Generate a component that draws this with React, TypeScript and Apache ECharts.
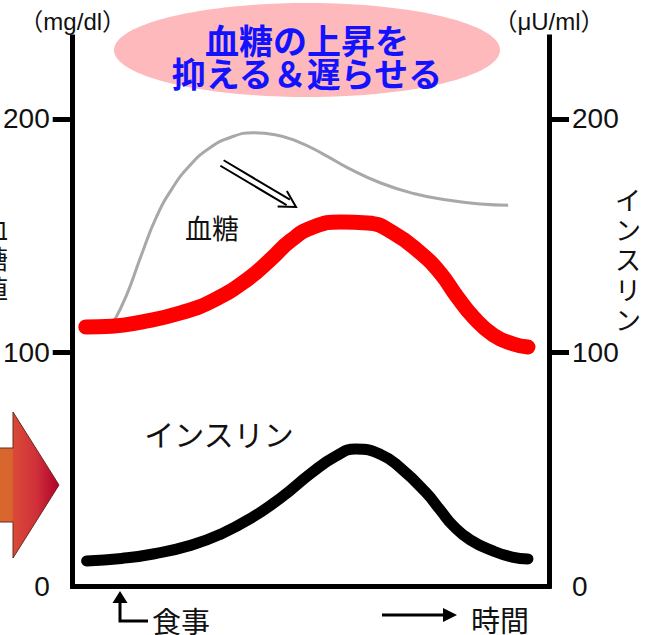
import React, { useEffect, useRef } from "react";
import * as echarts from "echarts";

// Time axis runs 0..120 (arbitrary units after the meal)
// Blood glucose before slowing absorption (grey, thin)
const timeGlucoseBefore = [10.3, 13.6, 17.3, 21.1, 25, 29.5, 34.5, 40, 45.5, 51, 57, 63, 69.3, 77.6, 85.9, 94.4, 102.7, 109.7];
const glucoseBefore = [113, 124.6, 141.7, 158, 170, 180, 187.5, 192.2, 194, 193.2, 190, 185, 179, 172.5, 168, 165.2, 163.5, 163];

// Blood glucose with the rise suppressed and delayed (red, thick)
const timeGlucose = [3.3, 9.8, 17.3, 27.4, 35.7, 44.2, 50, 55, 60.8, 67.5, 74.3, 80.8, 87.6, 92.6, 96.9, 100.9, 106, 111, 114.7];
const glucose = [110.9, 111.2, 113, 117, 122.5, 131.5, 140, 148, 153.8, 155.8, 155.4, 151.1, 142.6, 134, 123.7, 115.2, 107.4, 103.6, 102.3];

// Insulin (black, thick) on the right axis
const timeInsulin = [3.5, 12.3, 20.6, 29.9, 37.4, 44.9, 52.5, 60, 66.3, 71.3, 77.6, 82.6, 88.9, 92.6, 95.9, 100.2, 105.9, 110.7, 114.7];
const insulin = [10.7, 11.8, 13.8, 17.5, 22.3, 29, 37.8, 48.2, 55.6, 58.6, 56.3, 50.5, 40.2, 32.5, 25.7, 19.7, 15, 12.4, 11.6];

// Axis tick labels
const tickLabels = [0, 100, 200];
const tickMarks = [100, 200];

const pairs = (xs: number[], ys: number[]) => xs.map((x, i) => [x, ys[i]]);

const JP = '"Noto Sans CJK JP", "Noto Sans", sans-serif';
const NUM = '"Liberation Sans Narrow", "Arial Narrow", "Liberation Sans", sans-serif';

// Small "⇒" arrow between the two glucose curves
function doubleArrow(x0: number, y0: number, x1: number, y1: number) {
  const dx = x1 - x0, dy = y1 - y0;
  const len = Math.hypot(dx, dy);
  const ux = dx / len, uy = dy / len;
  const nx = -uy, ny = ux;
  const off = 3.2;
  const back = 9;
  const ex = x1 - ux * back, ey = y1 - uy * back;
  const style = { stroke: "#000", lineWidth: 2, fill: "none" };
  return [
    { type: "line", shape: { x1: x0 + nx * off, y1: y0 + ny * off, x2: ex + nx * off, y2: ey + ny * off }, style },
    { type: "line", shape: { x1: x0 - nx * off, y1: y0 - ny * off, x2: ex - nx * off, y2: ey - ny * off }, style },
    {
      type: "polyline",
      shape: {
        points: [
          [x1 - ux * 16 + nx * 9, y1 - uy * 16 + ny * 9],
          [x1, y1],
          [x1 - ux * 16 - nx * 9, y1 - uy * 16 - ny * 9],
        ],
      },
      style,
    },
  ];
}

function yAxis(position: "left" | "right", name: string) {
  return {
    type: "value",
    position,
    min: 0,
    max: 235,
    name,
    nameLocation: "end",
    nameGap: 4,
    nameTextStyle: { color: "#111", fontSize: 24, fontFamily: '"Liberation Sans", "Noto Sans CJK JP", sans-serif' },
    axisLine: { show: true, lineStyle: { color: "#000", width: 5, cap: "square" } },
    axisTick: { show: true, length: 20, customValues: tickMarks, lineStyle: { color: "#000", width: 5 } },
    axisLabel: { show: true, customValues: tickLabels, margin: 23, color: "#111", fontSize: 28, fontFamily: NUM },
    splitLine: { show: false },
  };
}

export default function App() {
  const ref = useRef<HTMLDivElement>(null);

  useEffect(() => {
    if (!ref.current) return;
    const chart = echarts.init(ref.current, null, { renderer: "svg" });

    const arrowFill = new echarts.graphic.LinearGradient(0, 0, 1, 0, [
      { offset: 0, color: "#D8692C" },
      { offset: 0.28, color: "#D8652E" },
      { offset: 0.3, color: "#D84A36" },
      { offset: 0.65, color: "#D0303A" },
      { offset: 1, color: "#B0002A" },
    ]);

    chart.setOption({
      animation: false,
      backgroundColor: "#fff",
      grid: { left: 71, right: 98, top: 37, bottom: 49, containLabel: false },
      xAxis: {
        type: "value",
        min: 0,
        max: 120,
        axisLine: { show: true, onZero: false, lineStyle: { color: "#000", width: 5, cap: "square" } },
        axisTick: { show: false },
        axisLabel: { show: false },
        splitLine: { show: false },
      },
      yAxis: [yAxis("left", "（mg/dl）"), yAxis("right", "（μU/ml）")],
      series: [
        {
          name: "血糖（抑制前）",
          type: "line",
          yAxisIndex: 0,
          data: pairs(timeGlucoseBefore, glucoseBefore),
          smooth: 0.5,
          showSymbol: false,
          lineStyle: { color: "#A8A8A8", width: 3 },
          z: 2,
        },
        {
          name: "血糖",
          type: "line",
          yAxisIndex: 0,
          data: pairs(timeGlucose, glucose),
          smooth: 0.5,
          showSymbol: false,
          lineStyle: { color: "#FF0000", width: 15, cap: "round", join: "round" },
          z: 3,
        },
        {
          name: "インスリン",
          type: "line",
          yAxisIndex: 1,
          data: pairs(timeInsulin, insulin),
          smooth: 0.5,
          showSymbol: false,
          lineStyle: { color: "#000000", width: 11, cap: "round", join: "round" },
          z: 3,
        },
      ],
      graphic: [
        // Title bubble
        { type: "ellipse", shape: { cx: 307, cy: 50, rx: 193, ry: 47 }, style: { fill: "#FDB9BB" }, z: 10 },
        {
          type: "text",
          x: 307,
          y: 56,
          z: 11,
          style: {
            text: "血糖の上昇を\n抑える＆遅らせる",
            fill: "#1212FF",
            fontSize: 34,
            fontWeight: "bold",
            fontFamily: JP,
            align: "center",
            verticalAlign: "middle",
            lineHeight: 33,
          },
        },
        // Left vertical axis title (partly off the page)
        {
          type: "text",
          x: -18,
          y: 212,
          style: { text: "血\n糖\n値", fill: "#111", fontSize: 26, fontFamily: JP, lineHeight: 30, verticalAlign: "top" },
        },
        // Right vertical axis title
        {
          type: "text",
          x: 628,
          y: 183,
          style: {
            text: "イ\nン\nス\nリ\nン",
            fill: "#111",
            fontSize: 26,
            fontFamily: JP,
            align: "center",
            verticalAlign: "top",
            lineHeight: 30,
          },
        },
        // Curve labels
        { type: "text", x: 212, y: 227, style: { text: "血糖", fill: "#111", fontSize: 27, fontFamily: JP, align: "center", verticalAlign: "middle" } },
        { type: "text", x: 219, y: 433, style: { text: "インスリン", fill: "#111", fontSize: 30, fontFamily: JP, align: "center", verticalAlign: "middle" } },
        ...doubleArrow(222, 163, 296, 207),
        // Large arrow on the left edge
        {
          type: "polygon",
          shape: { points: [[-6, 448], [13, 448], [13, 412], [59, 485], [13, 558], [13, 522], [-6, 522]] },
          style: { fill: arrowFill, stroke: "#6A2A1A", lineWidth: 1 },
        },
        // Meal marker
        { type: "polyline", shape: { points: [[120, 600], [120, 621], [148, 621]] }, style: { stroke: "#000", lineWidth: 3, fill: "none" } },
        { type: "polygon", shape: { points: [[120, 591], [112.5, 603], [127.5, 603]] }, style: { fill: "#000" } },
        { type: "text", x: 152, y: 620, style: { text: "食事", fill: "#111", fontSize: 29, fontFamily: JP, verticalAlign: "middle" } },
        // Time arrow
        { type: "line", shape: { x1: 382, y1: 615, x2: 446, y2: 615 }, style: { stroke: "#000", lineWidth: 3 } },
        { type: "polygon", shape: { points: [[457, 615], [443, 608], [443, 622]] }, style: { fill: "#000" } },
        { type: "text", x: 471, y: 619, style: { text: "時間", fill: "#111", fontSize: 29, fontFamily: JP, verticalAlign: "middle" } },
      ],
    });

    return () => chart.dispose();
  }, []);

  return <div ref={ref} style={{ position: "absolute", left: 0, top: 0, width: 647, height: 635 }} />;
}
